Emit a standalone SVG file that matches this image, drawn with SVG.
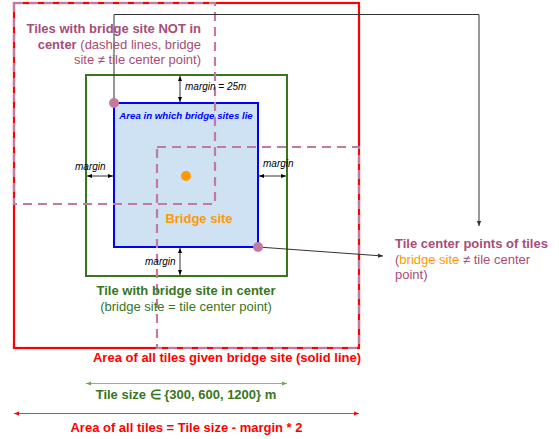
<svg xmlns="http://www.w3.org/2000/svg" width="559" height="439" viewBox="0 0 559 439">
<style>
text{font-family:"Liberation Sans",Arial,sans-serif;}
.b{font-weight:bold;}
.pk{fill:#a64d79;}
.gr{fill:#38761d;}
.rd{fill:#ff0000;}
.mg{font-size:10px;font-style:italic;fill:#000;}
.dash{fill:none;stroke:#c27ba0;stroke-width:2.2;stroke-dasharray:9,6;}
.conn{fill:none;stroke:#333;stroke-width:1;}
.dim{fill:none;stroke:#000;stroke-width:0.8;}
</style>
<defs>
<marker id="ah" markerWidth="6" markerHeight="6" refX="5" refY="3" orient="auto" markerUnits="userSpaceOnUse">
<path d="M0,0.8 L5,3 L0,5.2 Z" fill="#333"/>
</marker>
<marker id="ahs" markerWidth="6" markerHeight="6" refX="5" refY="3" orient="auto-start-reverse" markerUnits="userSpaceOnUse">
<path d="M0,1 L5,3 L0,5 Z" fill="#000"/>
</marker>
<marker id="ahg" markerWidth="6" markerHeight="6" refX="5" refY="3" orient="auto-start-reverse" markerUnits="userSpaceOnUse">
<path d="M0,1 L5,3 L0,5 Z" fill="#6aa84f"/>
</marker>
<marker id="ahr" markerWidth="6" markerHeight="6" refX="5" refY="3" orient="auto-start-reverse" markerUnits="userSpaceOnUse">
<path d="M0,1 L5,3 L0,5 Z" fill="#ff0000"/>
</marker>
</defs>
<rect width="559" height="439" fill="#fff"/>

<g id="area-all-tiles">
<rect x="14" y="3" width="345" height="345" fill="none" stroke="#ff0000" stroke-width="2.2"/>
</g>

<g id="tile-center">
<rect x="86" y="75" width="201" height="201" fill="none" stroke="#38761d" stroke-width="2"/>
</g>

<g id="bridge-area">
<rect x="114" y="103" width="144" height="144" fill="#cfe2f3" stroke="#0000ff" stroke-width="2"/>
<text x="186" y="118.5" text-anchor="middle" font-size="9.7" font-weight="bold" font-style="italic" fill="#0000ff">Area in which bridge sites lie</text>
</g>

<g id="tile-dashed-1">
<rect x="14" y="3" width="201" height="201" class="dash"/>
</g>
<g id="tile-dashed-2">
<rect x="157" y="147" width="202" height="201" class="dash"/>
</g>

<g id="bridge-site">
<circle cx="186" cy="176" r="5" fill="#ff9900"/>
<text x="199" y="223" text-anchor="middle" font-size="13" class="b" fill="#ff9900">Bridge site</text>
</g>

<g id="connectors">
<polyline points="114,103 114,14.5 479,14.5 479,226" class="conn" marker-end="url(#ah)"/>
<line x1="258" y1="247" x2="383" y2="256" class="conn" marker-end="url(#ah)"/>
<line x1="180" y1="76" x2="180" y2="102" class="dim" marker-start="url(#ahs)" marker-end="url(#ahs)"/>
<line x1="180" y1="248" x2="180" y2="275" class="dim" marker-start="url(#ahs)" marker-end="url(#ahs)"/>
<line x1="87" y1="176" x2="113" y2="176" class="dim" marker-start="url(#ahs)" marker-end="url(#ahs)"/>
<line x1="259" y1="176" x2="286" y2="176" class="dim" marker-start="url(#ahs)" marker-end="url(#ahs)"/>
<line x1="86" y1="383.5" x2="287" y2="383.5" stroke="#6aa84f" stroke-width="0.8" marker-start="url(#ahg)" marker-end="url(#ahg)"/>
<line x1="14" y1="413.5" x2="359" y2="413.5" stroke="#ff0000" stroke-width="0.8" marker-start="url(#ahr)" marker-end="url(#ahr)"/>
</g>

<g id="center-points">
<circle cx="114" cy="103" r="5" fill="#c27ba0"/>
<circle cx="258" cy="247" r="5" fill="#c27ba0"/>
</g>

<g id="margin-labels">
<text x="185" y="90" class="mg">margin = 25m</text>
<text x="75" y="170" class="mg">margin</text>
<text x="263" y="167" class="mg">margin</text>
<text x="145" y="265" class="mg">margin</text>
</g>

<g id="label-not-center" font-size="13" text-anchor="end">
<text x="201" y="33" class="b pk">Tiles with bridge site NOT in</text>
<text x="201" y="49" class="pk"><tspan font-weight="bold">center</tspan> (dashed lines, bridge</text>
<text x="201" y="64" class="pk">site ≠ tile center point)</text>
</g>

<g id="label-center-points" font-size="13">
<text x="395" y="248" class="b pk">Tile center points of tiles</text>
<text x="395" y="264" class="pk">(<tspan fill="#ff9900">bridge site</tspan> ≠ tile center</text>
<text x="395" y="279" class="pk">point)</text>
</g>

<g id="label-center" font-size="13" text-anchor="middle">
<text x="186" y="295" class="b gr">Tile with bridge site in center</text>
<text x="186" y="310.5" class="gr">(bridge site = tile center point)</text>
</g>

<g id="label-area" font-size="13">
<text x="361" y="361.5" text-anchor="end" class="b rd">Area of all tiles given bridge site (solid line)</text>
</g>

<g id="label-tile-size" font-size="13" text-anchor="middle">
<text x="186" y="399" class="b gr">Tile size ∈ {300, 600, 1200} m</text>
</g>

<g id="label-area-formula" font-size="13" text-anchor="middle">
<text x="186.5" y="431.5" class="b rd">Area of all tiles = Tile size - margin * 2</text>
</g>
</svg>
